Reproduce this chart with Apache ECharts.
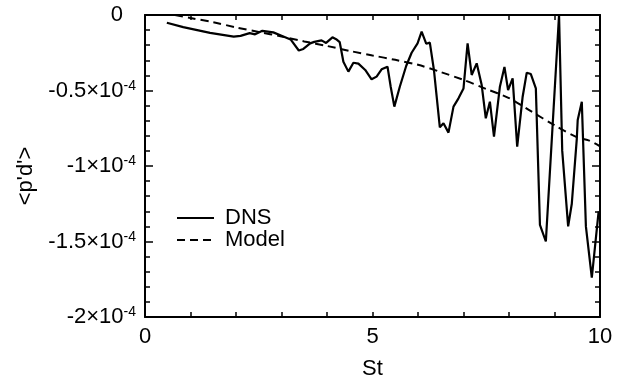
<!DOCTYPE html>
<html><head><meta charset="utf-8">
<script src="https://cdn.jsdelivr.net/npm/echarts@6/dist/echarts.min.js"></script>
<style>html,body{margin:0;padding:0;background:#fff}#c{width:630px;height:390px}</style>
</head><body><div id="c"></div>
<script>
// values of <p'd'> in units of 1e-4
const dnsSt = [0.48,0.84,1.43,1.95,2.1,2.3,2.42,2.58,2.82,3.04,3.2,3.38,3.48,3.63,3.72,3.88,3.98,4.12,4.2,4.28,4.36,4.47,4.58,4.69,4.84,4.98,5.09,5.2,5.33,5.4,5.48,5.6,5.74,5.86,5.99,6.08,6.18,6.26,6.35,6.48,6.56,6.67,6.78,6.89,7.0,7.09,7.18,7.29,7.4,7.49,7.58,7.67,7.8,7.9,7.98,8.08,8.18,8.3,8.39,8.48,8.59,8.68,8.81,9.1,9.17,9.3,9.38,9.49,9.51,9.6,9.69,9.82,9.97];
const dnsVal = [-0.051,-0.08,-0.118,-0.143,-0.138,-0.12,-0.128,-0.105,-0.115,-0.142,-0.162,-0.235,-0.225,-0.188,-0.178,-0.168,-0.185,-0.148,-0.16,-0.18,-0.31,-0.375,-0.316,-0.322,-0.364,-0.426,-0.408,-0.36,-0.342,-0.475,-0.607,-0.475,-0.338,-0.25,-0.188,-0.11,-0.19,-0.183,-0.364,-0.744,-0.717,-0.779,-0.607,-0.552,-0.486,-0.188,-0.397,-0.32,-0.464,-0.684,-0.574,-0.806,-0.475,-0.344,-0.497,-0.42,-0.872,-0.541,-0.382,-0.391,-0.486,-1.39,-1.5,0,-0.9,-1.4,-1.25,-0.82,-0.695,-0.574,-1.4,-1.74,-1.3];
const modelSt = [0.66,1.0,1.5,2.0,2.5,3.0,3.5,4.0,4.5,5.0,5.5,6.0,6.5,7.0,7.5,8.0,8.5,9.0,9.5,9.75,10.0];
const modelVal = [0,-0.02,-0.048,-0.082,-0.112,-0.142,-0.175,-0.205,-0.238,-0.268,-0.297,-0.33,-0.378,-0.43,-0.49,-0.55,-0.64,-0.73,-0.81,-0.83,-0.87];
const xTickLabels = [0,5,10];
const yTickLabels = [0,-0.5,-1,-1.5,-2];
const seriesNames = ['DNS','Model'];
const xName = 'St';
const yName = "<p'd'>";

const FONT = 'Liberation Sans, Arial, Helvetica, sans-serif';
const pair = (a,b) => a.map((v,i)=>[v,b[i]]);
const chart = echarts.init(document.getElementById('c'), null, {renderer:'canvas'});
const axLine = {show:true, onZero:false, lineStyle:{color:'#000', width:2}};
const tickX = {show:true, inside:true, length:5, lineStyle:{color:'#000', width:1.5}};
const tickY = {show:true, inside:true, length:8, lineStyle:{color:'#000', width:1.5}};
const minorY = {show:true, splitNumber:5, length:5, lineStyle:{color:'#000', width:1.5}};
chart.setOption({
  animation:false,
  backgroundColor:'#fff',
  grid:{left:145, right:30, top:15, bottom:73, containLabel:false},
  legend:{
    orient:'vertical', left:176, top:207, padding:0, itemWidth:37, itemHeight:14, itemGap:0,
    itemStyle:{opacity:0},
    textStyle:{fontFamily:FONT, fontSize:22, color:'#000', padding:[0,0,0,6]},
    data:seriesNames
  },
  xAxis:[{
    type:'value', min:0, max:10, interval:1,
    name:xName, nameLocation:'middle', nameGap:41,
    nameTextStyle:{fontFamily:FONT, fontSize:22, color:'#000'},
    axisLine:axLine, axisTick:tickX,
    axisLabel:{fontFamily:FONT, fontSize:22, color:'#000', margin:9,
      formatter:v => xTickLabels.includes(v) ? String(v) : ''},
    splitLine:{show:false}
  },{
    type:'value', position:'top', min:0, max:10, interval:1,
    axisLine:axLine, axisTick:tickX,
    axisLabel:{show:false}, splitLine:{show:false}
  }],
  yAxis:[{
    type:'value', min:-2, max:0, interval:0.5,
    name:yName, nameLocation:'middle', nameGap:108, nameRotate:90,
    nameTextStyle:{fontFamily:FONT, fontSize:22, color:'#000', padding:[0,20,0,0]},
    axisLine:axLine, axisTick:tickY, minorTick:minorY,
    axisLabel:{margin:9,
      formatter:v => {
        if (!yTickLabels.includes(v)) return '';
        if (v === 0) return '{z|0}';
        return '{a|' + v + '×10}{s|-4}';
      },
      rich:{
        a:{fontFamily:FONT, fontSize:22, color:'#000'},
        z:{fontFamily:FONT, fontSize:22, color:'#000', padding:[0,13,0,0]},
        s:{fontFamily:FONT, fontSize:14, color:'#000', padding:[0,0,9,0]}
      }
    },
    splitLine:{show:false}, minorSplitLine:{show:false}
  },{
    type:'value', position:'right', min:-2, max:0, interval:0.5,
    axisLine:axLine, axisTick:tickY, minorTick:minorY,
    axisLabel:{show:false}, splitLine:{show:false}
  }],
  series:[{
    name:seriesNames[0], type:'line', data:pair(dnsSt,dnsVal),
    showSymbol:false, symbol:'none', clip:true,
    lineStyle:{color:'#000', width:2.2}, itemStyle:{color:'#000'}
  },{
    name:seriesNames[1], type:'line', data:pair(modelSt,modelVal),
    showSymbol:false, symbol:'none', smooth:0.3, clip:true,
    lineStyle:{color:'#000', width:2, type:[8,5]}, itemStyle:{color:'#000'}
  }]
});
</script></body></html>
